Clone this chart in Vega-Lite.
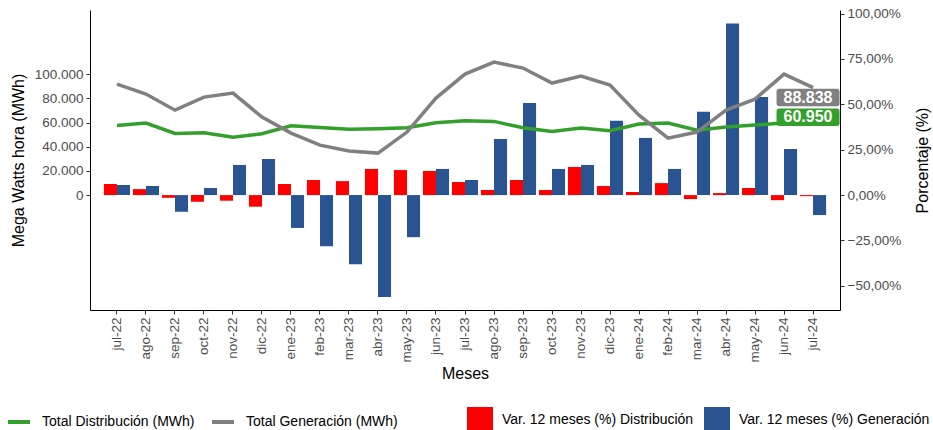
{
  "$schema": "https://vega.github.io/schema/vega-lite/v6.json",
  "width": 750,
  "height": 300,
  "autosize": {"type": "none"},
  "padding": {"left": 90, "top": 10, "right": 93, "bottom": 120},
  "background": "white",
  "config": {
    "font": "Liberation Sans",
    "view": {"stroke": null},
    "locale": {"number": {"decimal": ",", "thousands": ".", "grouping": [3], "currency": ["$", ""]}},
    "axis": {
      "grid": false,
      "domainColor": "black",
      "domainWidth": 1,
      "tickColor": "#333333",
      "tickSize": 4,
      "labelColor": "#4D4D4D",
      "labelFont": "Liberation Sans",
      "labelFontSize": 13.5,
      "titleFont": "Liberation Sans",
      "titleFontSize": 16,
      "titleFontWeight": "normal",
      "titleColor": "black"
    },
    "legend": {
      "labelFont": "Liberation Sans",
      "labelFontSize": 14,
      "labelColor": "black",
      "labelLimit": 0,
      "titleFontSize": 0
    }
  },
  "datasets": {
    "barras": [
      {"mes": "jul-22", "serie": "Var. 12 meses (%) Distribución", "valor": 6.1},
      {"mes": "ago-22", "serie": "Var. 12 meses (%) Distribución", "valor": 3.3},
      {"mes": "sep-22", "serie": "Var. 12 meses (%) Distribución", "valor": -1.5},
      {"mes": "oct-22", "serie": "Var. 12 meses (%) Distribución", "valor": -3.7},
      {"mes": "nov-22", "serie": "Var. 12 meses (%) Distribución", "valor": -3.1},
      {"mes": "dic-22", "serie": "Var. 12 meses (%) Distribución", "valor": -6.4},
      {"mes": "ene-23", "serie": "Var. 12 meses (%) Distribución", "valor": 6.1},
      {"mes": "feb-23", "serie": "Var. 12 meses (%) Distribución", "valor": 8.3},
      {"mes": "mar-23", "serie": "Var. 12 meses (%) Distribución", "valor": 7.7},
      {"mes": "abr-23", "serie": "Var. 12 meses (%) Distribución", "valor": 14.4},
      {"mes": "may-23", "serie": "Var. 12 meses (%) Distribución", "valor": 13.8},
      {"mes": "jun-23", "serie": "Var. 12 meses (%) Distribución", "valor": 13.3},
      {"mes": "jul-23", "serie": "Var. 12 meses (%) Distribución", "valor": 7.2},
      {"mes": "ago-23", "serie": "Var. 12 meses (%) Distribución", "valor": 2.8},
      {"mes": "sep-23", "serie": "Var. 12 meses (%) Distribución", "valor": 8.3},
      {"mes": "oct-23", "serie": "Var. 12 meses (%) Distribución", "valor": 2.8},
      {"mes": "nov-23", "serie": "Var. 12 meses (%) Distribución", "valor": 15.5},
      {"mes": "dic-23", "serie": "Var. 12 meses (%) Distribución", "valor": 5.0},
      {"mes": "ene-24", "serie": "Var. 12 meses (%) Distribución", "valor": 1.7},
      {"mes": "feb-24", "serie": "Var. 12 meses (%) Distribución", "valor": 6.6},
      {"mes": "mar-24", "serie": "Var. 12 meses (%) Distribución", "valor": -2.2},
      {"mes": "abr-24", "serie": "Var. 12 meses (%) Distribución", "valor": 1.1},
      {"mes": "may-24", "serie": "Var. 12 meses (%) Distribución", "valor": 3.9},
      {"mes": "jun-24", "serie": "Var. 12 meses (%) Distribución", "valor": -2.8},
      {"mes": "jul-24", "serie": "Var. 12 meses (%) Distribución", "valor": -0.6},
      {"mes": "jul-22", "serie": "Var. 12 meses (%) Generación", "valor": 5.5},
      {"mes": "ago-22", "serie": "Var. 12 meses (%) Generación", "valor": 5.0},
      {"mes": "sep-22", "serie": "Var. 12 meses (%) Generación", "valor": -9.2},
      {"mes": "oct-22", "serie": "Var. 12 meses (%) Generación", "valor": 3.9},
      {"mes": "nov-22", "serie": "Var. 12 meses (%) Generación", "valor": 16.6},
      {"mes": "dic-22", "serie": "Var. 12 meses (%) Generación", "valor": 19.9},
      {"mes": "ene-23", "serie": "Var. 12 meses (%) Generación", "valor": -18.1},
      {"mes": "feb-23", "serie": "Var. 12 meses (%) Generación", "valor": -28.2},
      {"mes": "mar-23", "serie": "Var. 12 meses (%) Generación", "valor": -38.1},
      {"mes": "abr-23", "serie": "Var. 12 meses (%) Generación", "valor": -56.2},
      {"mes": "may-23", "serie": "Var. 12 meses (%) Generación", "valor": -23.2},
      {"mes": "jun-23", "serie": "Var. 12 meses (%) Generación", "valor": 14.4},
      {"mes": "jul-23", "serie": "Var. 12 meses (%) Generación", "valor": 8.3},
      {"mes": "ago-23", "serie": "Var. 12 meses (%) Generación", "valor": 30.9},
      {"mes": "sep-23", "serie": "Var. 12 meses (%) Generación", "valor": 50.8},
      {"mes": "oct-23", "serie": "Var. 12 meses (%) Generación", "valor": 14.4},
      {"mes": "nov-23", "serie": "Var. 12 meses (%) Generación", "valor": 16.6},
      {"mes": "dic-23", "serie": "Var. 12 meses (%) Generación", "valor": 40.9},
      {"mes": "ene-24", "serie": "Var. 12 meses (%) Generación", "valor": 31.5},
      {"mes": "feb-24", "serie": "Var. 12 meses (%) Generación", "valor": 14.4},
      {"mes": "mar-24", "serie": "Var. 12 meses (%) Generación", "valor": 45.9},
      {"mes": "abr-24", "serie": "Var. 12 meses (%) Generación", "valor": 94.5},
      {"mes": "may-24", "serie": "Var. 12 meses (%) Generación", "valor": 54.1},
      {"mes": "jun-24", "serie": "Var. 12 meses (%) Generación", "valor": 25.4},
      {"mes": "jul-24", "serie": "Var. 12 meses (%) Generación", "valor": -11.0}
    ],
    "lineas": [
      {"mes": "jul-22", "serie": "Total Distribución (MWh)", "mwh": 57600},
      {"mes": "ago-22", "serie": "Total Distribución (MWh)", "mwh": 59500},
      {"mes": "sep-22", "serie": "Total Distribución (MWh)", "mwh": 51000},
      {"mes": "oct-22", "serie": "Total Distribución (MWh)", "mwh": 51500},
      {"mes": "nov-22", "serie": "Total Distribución (MWh)", "mwh": 47900},
      {"mes": "dic-22", "serie": "Total Distribución (MWh)", "mwh": 50700},
      {"mes": "ene-23", "serie": "Total Distribución (MWh)", "mwh": 57300},
      {"mes": "feb-23", "serie": "Total Distribución (MWh)", "mwh": 55900},
      {"mes": "mar-23", "serie": "Total Distribución (MWh)", "mwh": 54500},
      {"mes": "abr-23", "serie": "Total Distribución (MWh)", "mwh": 54800},
      {"mes": "may-23", "serie": "Total Distribución (MWh)", "mwh": 55600},
      {"mes": "jun-23", "serie": "Total Distribución (MWh)", "mwh": 59800},
      {"mes": "jul-23", "serie": "Total Distribución (MWh)", "mwh": 61400},
      {"mes": "ago-23", "serie": "Total Distribución (MWh)", "mwh": 60900},
      {"mes": "sep-23", "serie": "Total Distribución (MWh)", "mwh": 55600},
      {"mes": "oct-23", "serie": "Total Distribución (MWh)", "mwh": 52600},
      {"mes": "nov-23", "serie": "Total Distribución (MWh)", "mwh": 55400},
      {"mes": "dic-23", "serie": "Total Distribución (MWh)", "mwh": 53200},
      {"mes": "ene-24", "serie": "Total Distribución (MWh)", "mwh": 58700},
      {"mes": "feb-24", "serie": "Total Distribución (MWh)", "mwh": 59500},
      {"mes": "mar-24", "serie": "Total Distribución (MWh)", "mwh": 53700},
      {"mes": "abr-24", "serie": "Total Distribución (MWh)", "mwh": 56200},
      {"mes": "may-24", "serie": "Total Distribución (MWh)", "mwh": 57900},
      {"mes": "jun-24", "serie": "Total Distribución (MWh)", "mwh": 59500},
      {"mes": "jul-24", "serie": "Total Distribución (MWh)", "mwh": 60950},
      {"mes": "jul-22", "serie": "Total Generación (MWh)", "mwh": 91700},
      {"mes": "ago-22", "serie": "Total Generación (MWh)", "mwh": 83500},
      {"mes": "sep-22", "serie": "Total Generación (MWh)", "mwh": 70200},
      {"mes": "oct-22", "serie": "Total Generación (MWh)", "mwh": 81000},
      {"mes": "nov-22", "serie": "Total Generación (MWh)", "mwh": 84300},
      {"mes": "dic-22", "serie": "Total Generación (MWh)", "mwh": 64500},
      {"mes": "ene-23", "serie": "Total Generación (MWh)", "mwh": 51200},
      {"mes": "feb-23", "serie": "Total Generación (MWh)", "mwh": 41300},
      {"mes": "mar-23", "serie": "Total Generación (MWh)", "mwh": 36400},
      {"mes": "abr-23", "serie": "Total Generación (MWh)", "mwh": 34700},
      {"mes": "may-23", "serie": "Total Generación (MWh)", "mwh": 52100},
      {"mes": "jun-23", "serie": "Total Generación (MWh)", "mwh": 80200},
      {"mes": "jul-23", "serie": "Total Generación (MWh)", "mwh": 100000},
      {"mes": "ago-23", "serie": "Total Generación (MWh)", "mwh": 109900},
      {"mes": "sep-23", "serie": "Total Generación (MWh)", "mwh": 105000},
      {"mes": "oct-23", "serie": "Total Generación (MWh)", "mwh": 92600},
      {"mes": "nov-23", "serie": "Total Generación (MWh)", "mwh": 98300},
      {"mes": "dic-23", "serie": "Total Generación (MWh)", "mwh": 90900},
      {"mes": "ene-24", "serie": "Total Generación (MWh)", "mwh": 66100},
      {"mes": "feb-24", "serie": "Total Generación (MWh)", "mwh": 47100},
      {"mes": "mar-24", "serie": "Total Generación (MWh)", "mwh": 52100},
      {"mes": "abr-24", "serie": "Total Generación (MWh)", "mwh": 70200},
      {"mes": "may-24", "serie": "Total Generación (MWh)", "mwh": 79300},
      {"mes": "jun-24", "serie": "Total Generación (MWh)", "mwh": 100000},
      {"mes": "jul-24", "serie": "Total Generación (MWh)", "mwh": 88838}
    ]
  },
  "encoding": {
    "x": {
      "field": "mes",
      "type": "nominal",
      "scale": {
        "domain": ["jul-22","ago-22","sep-22","oct-22","nov-22","dic-22","ene-23","feb-23","mar-23","abr-23","may-23","jun-23","jul-23","ago-23","sep-23","oct-23","nov-23","dic-23","ene-24","feb-24","mar-24","abr-24","may-24","jun-24","jul-24"],
        "paddingInner": 0.1,
        "paddingOuter": 0.48
      },
      "axis": {
        "title": "Meses",
        "labelAngle": 270,
        "labelAlign": "right",
        "labelBaseline": "middle",
        "labelPadding": 3,
        "titlePadding": 3
      }
    }
  },
  "layer": [
    {
      "data": {"name": "barras"},
      "mark": {"type": "bar"},
      "encoding": {
        "xOffset": {"field": "serie", "type": "nominal", "scale": {"domain": ["Var. 12 meses (%) Distribución", "Var. 12 meses (%) Generación"], "paddingInner": 0, "paddingOuter": 0}},
        "y": {
          "field": "valor",
          "type": "quantitative",
          "scale": {"domain": [-63.33, 102], "nice": false, "zero": false},
          "axis": {
            "orient": "right",
            "title": "Porcentaje (%)",
            "titleAngle": 270,
            "titleX": 82,
            "titleY": 150,
            "titleAlign": "center",
            "titleBaseline": "middle",
            "values": [-50, -25, 0, 25, 50, 75, 100],
            "format": ",.2f",
            "labelExpr": "datum.label + '%'",
            "labelPadding": 3
          }
        },
        "color": {
          "field": "serie",
          "type": "nominal",
          "scale": {"domain": ["Var. 12 meses (%) Distribución", "Var. 12 meses (%) Generación"], "range": ["#FF0000", "#2A5391"]},
          "legend": {
            "orient": "none",
            "direction": "horizontal",
            "columns": 2,
            "legendX": 377,
            "legendY": 397,
            "title": null,
            "symbolType": "square",
            "symbolSize": 676,
            "symbolStrokeWidth": 0,
            "symbolOpacity": 1,
            "labelOffset": 9,
            "columnPadding": 10,
            "padding": 0
          }
        }
      }
    },
    {
      "data": {"name": "lineas"},
      "layer": [
        {
          "mark": {"type": "line", "strokeWidth": 3.5},
          "encoding": {
            "y": {
              "field": "mwh",
              "type": "quantitative",
              "scale": {"domain": [-95000, 153000], "nice": false, "zero": false},
              "axis": {
                "orient": "left",
                "title": "Mega Watts hora (MWh)",
                "values": [0, 20000, 40000, 60000, 80000, 100000],
                "format": ",d",
                "labelPadding": 3,
                "titlePadding": 8
              }
            },
            "color": {
              "field": "serie",
              "type": "nominal",
              "scale": {"domain": ["Total Distribución (MWh)", "Total Generación (MWh)"], "range": ["#33A02C", "#808080"]},
              "legend": {
                "orient": "none",
                "direction": "horizontal",
                "columns": 2,
                "legendX": -84,
                "legendY": 399,
                "title": null,
                "symbolType": "stroke",
                "symbolSize": 484,
                "symbolStrokeWidth": 4,
                "labelOffset": 10,
                "columnPadding": 9,
                "padding": 0
              }
            }
          }
        },
        {
          "transform": [{"filter": "datum.mes === 'jul-24' && datum.serie === 'Total Generación (MWh)'"}],
          "mark": {"type": "point", "filled": true, "opacity": 1, "color": "#808080", "strokeWidth": 0, "size": 3969, "xOffset": -5, "yOffset": 10,
            "shape": "M-0.92,-0.278H0.92A0.08,0.08 0 0 1 1,-0.198V0.198A0.08,0.08 0 0 1 0.92,0.278H-0.92A0.08,0.08 0 0 1 -1,0.198V-0.198A0.08,0.08 0 0 1 -0.92,-0.278Z"},
          "encoding": {"y": {"field": "mwh", "type": "quantitative"}}
        },
        {
          "transform": [{"filter": "datum.mes === 'jul-24' && datum.serie === 'Total Distribución (MWh)'"}],
          "mark": {"type": "point", "filled": true, "opacity": 1, "color": "#33A02C", "strokeWidth": 0, "size": 3969, "xOffset": -5, "yOffset": -4,
            "shape": "M-0.92,-0.278H0.92A0.08,0.08 0 0 1 1,-0.198V0.198A0.08,0.08 0 0 1 0.92,0.278H-0.92A0.08,0.08 0 0 1 -1,0.198V-0.198A0.08,0.08 0 0 1 -0.92,-0.278Z"},
          "encoding": {"y": {"field": "mwh", "type": "quantitative"}}
        },
        {
          "transform": [{"filter": "datum.mes === 'jul-24' && datum.serie === 'Total Generación (MWh)'"}],
          "mark": {"type": "text", "color": "white", "fontWeight": "bold", "fontSize": 16, "align": "center", "baseline": "middle", "xOffset": -5, "yOffset": 10},
          "encoding": {"y": {"field": "mwh", "type": "quantitative"}, "text": {"field": "mwh", "type": "quantitative", "format": ",.0f"}}
        },
        {
          "transform": [{"filter": "datum.mes === 'jul-24' && datum.serie === 'Total Distribución (MWh)'"}],
          "mark": {"type": "text", "color": "white", "fontWeight": "bold", "fontSize": 16, "align": "center", "baseline": "middle", "xOffset": -5, "yOffset": -4},
          "encoding": {"y": {"field": "mwh", "type": "quantitative"}, "text": {"field": "mwh", "type": "quantitative", "format": ",.0f"}}
        }
      ]
    }
  ],
  "resolve": {"scale": {"y": "independent", "color": "independent"}}
}
